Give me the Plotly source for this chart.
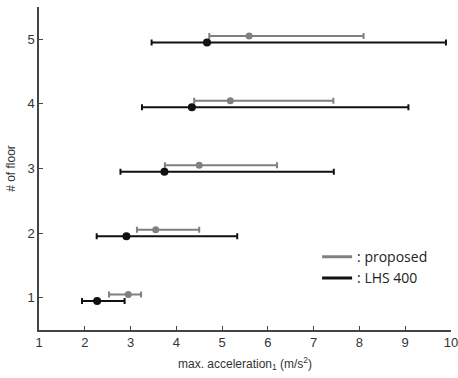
import plotly.graph_objects as go

floors = [1, 2, 3, 4, 5]

# LHS 400 (black)
lhs_mean = [2.27, 2.91, 3.74, 4.34, 4.67]
lhs_low = [1.94, 2.26, 2.78, 3.25, 3.46]
lhs_high = [2.87, 5.33, 7.44, 9.07, 9.89]

# proposed (gray)
prop_mean = [2.95, 3.55, 4.50, 5.18, 5.59]
prop_low = [2.53, 3.14, 3.75, 4.39, 4.72]
prop_high = [3.23, 4.50, 6.20, 7.43, 8.09]

x_ticks = [1, 2, 3, 4, 5, 6, 7, 8, 9, 10]
y_ticks = [1, 2, 3, 4, 5]

GRAY = "#808080"
BLACK = "#111111"
OFF = 0.05

fig = go.Figure()

fig.add_trace(go.Scatter(
    x=prop_mean, y=[f + OFF for f in floors], mode="markers",
    marker=dict(color=GRAY, size=7),
    error_x=dict(type="data", symmetric=False,
                 array=[h - m for h, m in zip(prop_high, prop_mean)],
                 arrayminus=[m - l for m, l in zip(prop_mean, prop_low)],
                 color=GRAY, thickness=2, width=3),
    showlegend=False, hoverinfo="x+y", cliponaxis=False))

fig.add_trace(go.Scatter(
    x=lhs_mean, y=[f - OFF for f in floors], mode="markers",
    marker=dict(color=BLACK, size=8),
    error_x=dict(type="data", symmetric=False,
                 array=[h - m for h, m in zip(lhs_high, lhs_mean)],
                 arrayminus=[m - l for m, l in zip(lhs_mean, lhs_low)],
                 color=BLACK, thickness=2, width=3),
    showlegend=False, hoverinfo="x+y", cliponaxis=False))

# legend entries
fig.add_trace(go.Scatter(x=[None], y=[None], mode="lines",
                         line=dict(color=GRAY, width=3), name=": proposed"))
fig.add_trace(go.Scatter(x=[None], y=[None], mode="lines",
                         line=dict(color=BLACK, width=3), name=": LHS 400"))

axis_common = dict(showgrid=False, zeroline=False, showline=True, automargin=False,
                   linecolor="#444444", linewidth=1.5,
                   ticks="inside", ticklen=4, tickcolor="#444444", tickwidth=1,
                   ticklabeloverflow="allow",
                   tickfont=dict(family="Liberation Sans, Arial", size=13, color="#333333"))

fig.update_layout(
    width=458, height=378,
    margin=dict(l=39, r=7, t=7, b=48),
    paper_bgcolor="white", plot_bgcolor="white",
    xaxis=dict(range=[1, 10.0001], tickvals=x_ticks, ticktext=[str(v) for v in x_ticks],
               title=dict(text="max. acceleration<sub>1</sub> (m/s<sup>2</sup>)",
                          font=dict(family="Liberation Sans, Arial", size=12, color="#333333"),
                          standoff=10),
               **axis_common),
    yaxis=dict(range=[0.5, 5.5], tickvals=y_ticks, ticktext=[str(v) for v in y_ticks],
               title=dict(text="# of floor",
                          font=dict(family="Liberation Sans, Arial", size=12, color="#333333"),
                          standoff=9),
               **axis_common),
    legend=dict(x=0.675, y=0.275, xanchor="left", yanchor="top",
                bgcolor="rgba(0,0,0,0)", itemwidth=30, tracegroupgap=0,
                font=dict(family="Open Sans", size=14, color="#222222")),
    showlegend=True,
)

fig.write_html(
    "out.html",
    config={"displayModeBar": False},
    post_script="document.body.style.margin='0';document.body.style.overflow='hidden';",
)
